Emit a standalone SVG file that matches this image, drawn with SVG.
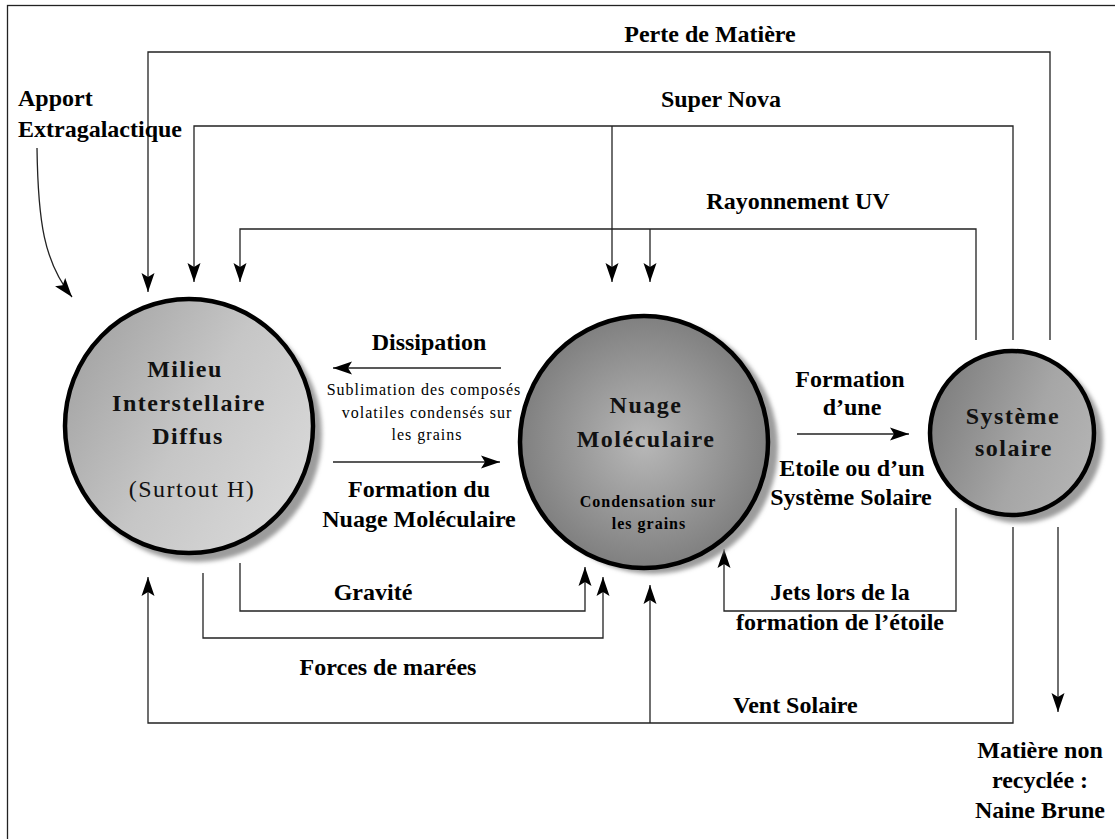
<svg xmlns="http://www.w3.org/2000/svg" width="1115" height="839" viewBox="0 0 1115 839">
<defs>
<style>
.lbl{font-family:"Liberation Serif","Times New Roman",serif;font-size:24px;font-weight:bold;fill:#000;text-anchor:middle}
.node{font-family:"Liberation Serif","Times New Roman",serif;font-size:24px;font-weight:bold;fill:#111;text-anchor:middle;letter-spacing:1.5px}
.small{font-family:"Liberation Serif","Times New Roman",serif;font-size:16px;fill:#000;text-anchor:middle;letter-spacing:1px}
.cw{fill:none;stroke:#222;stroke-width:1.3}
.outline{stroke:#000;stroke-width:4.5}
.shadow{fill:#9c9c9c;filter:url(#blur)}
</style>
<marker id="ah" viewBox="-20 -8 22 16" refX="0" refY="0" markerWidth="22" markerHeight="16" markerUnits="userSpaceOnUse" orient="auto">
<path d="M0,0 L-19,-6.5 L-15,0 L-19,6.5 Z" fill="#000"/>
</marker>
<filter id="blur" x="-10%" y="-10%" width="120%" height="120%"><feGaussianBlur stdDeviation="2"/></filter>
<linearGradient id="gMilieu" x1="0" y1="0.2" x2="1" y2="0.8">
<stop offset="0" stop-color="#a2a2a2"/><stop offset="0.5" stop-color="#c6c6c6"/><stop offset="1" stop-color="#dadada"/>
</linearGradient>
<radialGradient id="gNuage" cx="0.5" cy="0.5" r="0.55">
<stop offset="0" stop-color="#b8b8b8"/><stop offset="1" stop-color="#7a7a7a"/>
</radialGradient>
<linearGradient id="gSys" x1="0" y1="0.3" x2="1" y2="0.7">
<stop offset="0" stop-color="#7e7e7e"/><stop offset="0.6" stop-color="#a6a6a6"/><stop offset="1" stop-color="#b4b4b4"/>
</linearGradient>
</defs>
<rect x="0" y="0" width="1115" height="839" fill="#fff"/>
<rect x="7.5" y="5.5" width="1200" height="900" fill="none" stroke="#222" stroke-width="1.3"/>

<g id="connectors">
<polyline class="cw" points="1050,340 1050,52 148,52 148,292" marker-end="url(#ah)"/>
<polyline class="cw" points="1013,340 1013,126 194,126 194,282" marker-end="url(#ah)"/>
<line class="cw" x1="612" y1="126" x2="612" y2="282" marker-end="url(#ah)"/>
<polyline class="cw" points="976,340 976,229 240,229 240,282" marker-end="url(#ah)"/>
<line class="cw" x1="650" y1="229" x2="650" y2="282" marker-end="url(#ah)"/>
<path class="cw" d="M37,148 C38,222 44,262 72,297" marker-end="url(#ah)"/>
<line class="cw" x1="501" y1="368" x2="333" y2="368" marker-end="url(#ah)"/>
<line class="cw" x1="333" y1="462" x2="500" y2="462" marker-end="url(#ah)"/>
<line class="cw" x1="797" y1="434" x2="909" y2="434" marker-end="url(#ah)"/>
<polyline class="cw" points="240,563 240,611 585,611 585,567" marker-end="url(#ah)"/>
<polyline class="cw" points="203,573 203,638 603,638 603,577" marker-end="url(#ah)"/>
<polyline class="cw" points="1013,527 1013,723 148,723 148,577" marker-end="url(#ah)"/>
<line class="cw" x1="650" y1="723" x2="650" y2="585" marker-end="url(#ah)"/>
<polyline class="cw" points="956,508 956,611 724,611 724,549" marker-end="url(#ah)"/>
<line class="cw" x1="1058" y1="527" x2="1058" y2="712" marker-end="url(#ah)"/>
</g>

<g id="node-milieu">
<ellipse class="shadow" cx="197" cy="434" rx="125" ry="128"/>
<ellipse cx="189" cy="426" rx="124" ry="127" fill="url(#gMilieu)" class="outline"/>
<text class="node" x="185" y="377">Milieu</text>
<text class="node" x="189" y="411">Interstellaire</text>
<text class="node" x="188" y="444">Diffus</text>
<text class="node" x="192" y="497" style="font-weight:normal">(Surtout H)</text>
</g>

<g id="node-nuage">
<ellipse class="shadow" cx="653" cy="447" rx="125" ry="127"/>
<ellipse cx="644" cy="442" rx="124" ry="126" fill="url(#gNuage)" class="outline"/>
<text class="node" x="646" y="413">Nuage</text>
<text class="node" x="646" y="447">Moléculaire</text>
<text class="small" x="648" y="507" style="font-weight:bold">Condensation sur</text>
<text class="small" x="649" y="529" style="font-weight:bold">les grains</text>
</g>

<g id="node-systeme">
<ellipse class="shadow" cx="1020" cy="440" rx="83" ry="83"/>
<ellipse cx="1012" cy="433" rx="82" ry="82" fill="url(#gSys)" class="outline"/>
<text class="node" x="1013" y="424">Système</text>
<text class="node" x="1014" y="456">solaire</text>
</g>

<g id="labels">
<text class="lbl" x="18" y="106" style="text-anchor:start">Apport</text>
<text class="lbl" x="18" y="137" style="text-anchor:start">Extragalactique</text>
<text class="lbl" x="710" y="42">Perte de Matière</text>
<text class="lbl" x="721" y="107">Super Nova</text>
<text class="lbl" x="798" y="209">Rayonnement UV</text>
<text class="lbl" x="429" y="350">Dissipation</text>
<text class="small" x="424" y="395">Sublimation des composés</text>
<text class="small" x="427" y="418">volatiles condensés sur</text>
<text class="small" x="427" y="440">les grains</text>
<text class="lbl" x="419" y="497">Formation du</text>
<text class="lbl" x="419" y="527">Nuage Moléculaire</text>
<text class="lbl" x="850" y="387">Formation</text>
<text class="lbl" x="852" y="415">d’une</text>
<text class="lbl" x="852" y="476">Etoile ou d’un</text>
<text class="lbl" x="851" y="505">Système Solaire</text>
<text class="lbl" x="373" y="600">Gravité</text>
<text class="lbl" x="388" y="675">Forces de marées</text>
<text class="lbl" x="840" y="600">Jets lors de la</text>
<text class="lbl" x="840" y="630">formation de l’étoile</text>
<text class="lbl" x="733" y="713" style="text-anchor:start">Vent Solaire</text>
<text class="lbl" x="1040" y="758">Matière non</text>
<text class="lbl" x="1040" y="788">recyclée :</text>
<text class="lbl" x="1040" y="818">Naine Brune</text>
</g>
</svg>
